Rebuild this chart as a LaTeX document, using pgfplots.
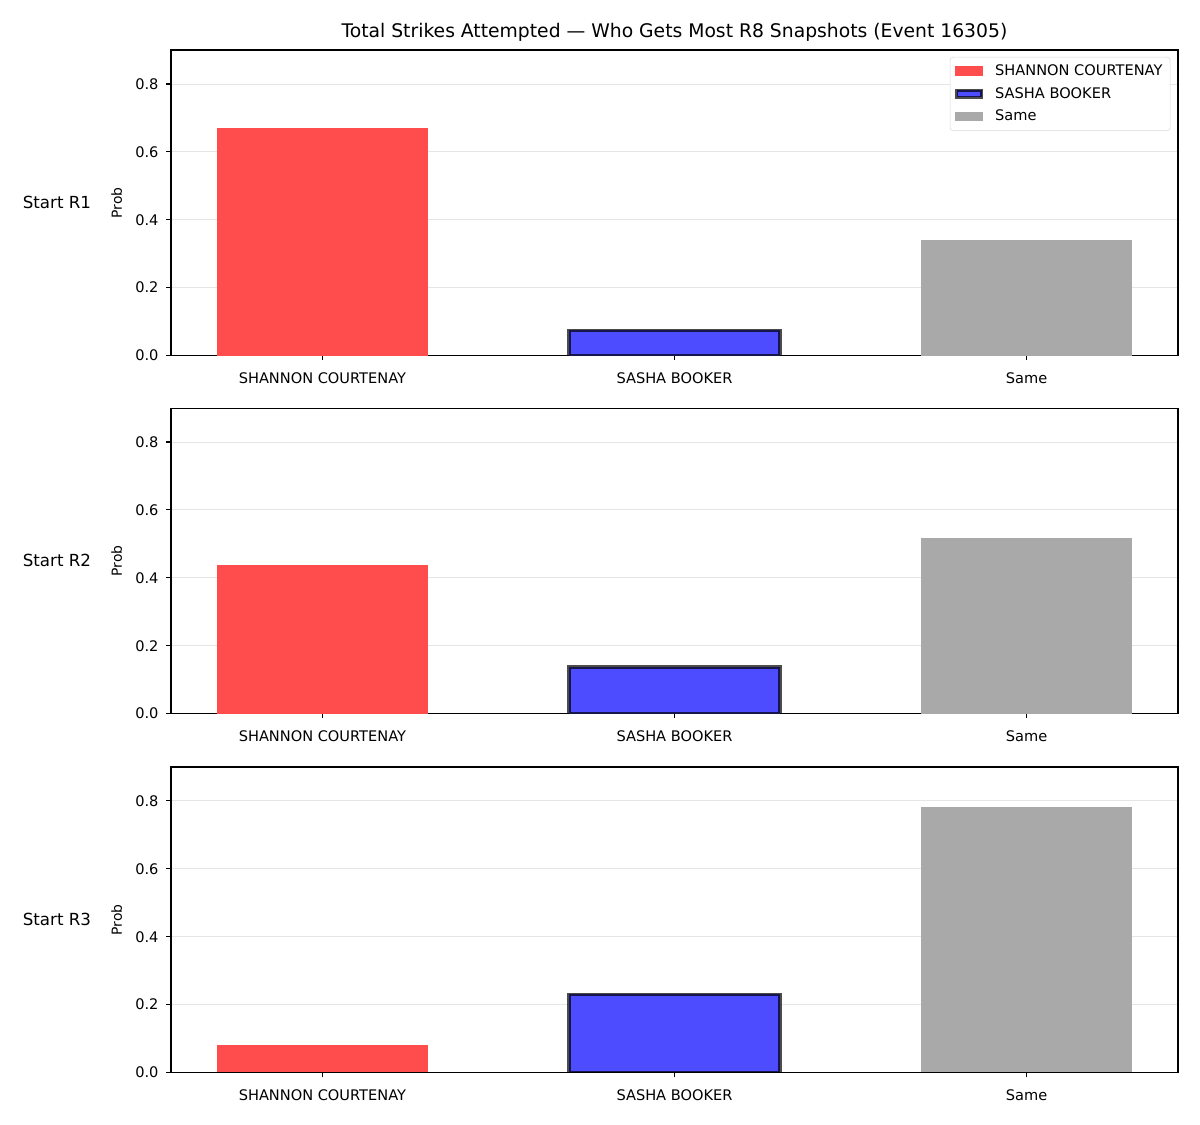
\documentclass[border=0pt]{standalone}
\usepackage{fontspec}
\setmainfont{DejaVu Sans}
\usepackage{pgfplots}
\pgfplotsset{compat=1.18}
\definecolor{cred}{HTML}{FF4D4D}
\definecolor{cblue}{HTML}{4D4DFF}
\definecolor{cgray}{HTML}{A9A9A9}
\pgfplotsset{panel/.style={
 scale only axis, width=725pt, height=220pt, anchor=south west,
 ybar, bar width=0.6, bar shift=0pt,
 xmin=-0.43, xmax=2.43, ymin=0, ymax=0.9,
 xtick={0,1,2}, xticklabels={SHANNON COURTENAY, SASHA BOOKER, Same},
 ytick={0,0.2,0.4,0.6,0.8},
 tick align=outside, xtick pos=bottom, ytick pos=left,
 major tick length=3.5pt,
 tick style={black, line width=0.8pt},
 axis line style={line width=0.8pt},
 ymajorgrids, grid style={black!10, line width=0.6pt},
 ticklabel style={font=\fontsize{10.5}{12}\selectfont},
 xticklabel style={yshift=-5pt},
 /pgf/number format/assume math mode=true,
 yticklabel style={xshift=-2pt, /pgf/number format/.cd, fixed, fixed zerofill, precision=1},
 ylabel=Prob,
 every axis y label/.style={at={(axis description cs:-0.054,0.5)}, rotate=90, anchor=center, font=\fontsize{10}{12}\selectfont},
 area legend,
 legend image code/.code={\fill[sharp corners, ##1, draw=none] (0pt,-3.5pt) rectangle (20pt,3.5pt);},
},
blueleg/.style={legend image code/.code={\draw[sharp corners, ##1, line width=2.4pt] (1pt,-2.5pt) rectangle (19pt,2.5pt);}}
}
\begin{document}
\begin{tikzpicture}
\path[use as bounding box] (0,0) rectangle (864pt,810pt);
\node[font=\fontsize{13.5}{15}\selectfont] at (485.6pt,786.5pt) {Total Strikes Attempted — Who Gets Most R8 Snapshots (Event 16305)};
\begin{axis}[panel, at={(123.12pt,554pt)},
 legend style={at={(1,1)}, anchor=north east, xshift=-5.5pt, yshift=-5pt, draw=black!15, rounded corners=2pt, font=\fontsize{10.5}{12}\selectfont, cells={anchor=west}, row sep=3pt, column sep=6.5pt, inner sep=3.5pt}]
\addplot[fill=cred, draw=none] coordinates {(0,0.670)};
\addplot[fill=cblue, draw=black, draw opacity=0.7, line width=2.6pt, blueleg] coordinates {(1,0.074)};
\addplot[fill=cgray, draw=none] coordinates {(2,0.339)};
\legend{SHANNON COURTENAY, SASHA BOOKER, Same}
\end{axis}
\node[font=\fontsize{12}{14}\selectfont] at (41pt,664pt) {Start R1};
\begin{axis}[panel, at={(123.12pt,296.2pt)}]
\addplot[fill=cred, draw=none] coordinates {(0,0.438)};
\addplot[fill=cblue, draw=black, draw opacity=0.7, line width=2.6pt] coordinates {(1,0.138)};
\addplot[fill=cgray, draw=none] coordinates {(2,0.518)};
\end{axis}
\node[font=\fontsize{12}{14}\selectfont] at (41pt,406.2pt) {Start R2};
\begin{axis}[panel, at={(123.12pt,37.8pt)}]
\addplot[fill=cred, draw=none] coordinates {(0,0.080)};
\addplot[fill=cblue, draw=black, draw opacity=0.7, line width=2.6pt] coordinates {(1,0.230)};
\addplot[fill=cgray, draw=none] coordinates {(2,0.782)};
\end{axis}
\node[font=\fontsize{12}{14}\selectfont] at (41pt,147.8pt) {Start R3};
\end{tikzpicture}
\end{document}
